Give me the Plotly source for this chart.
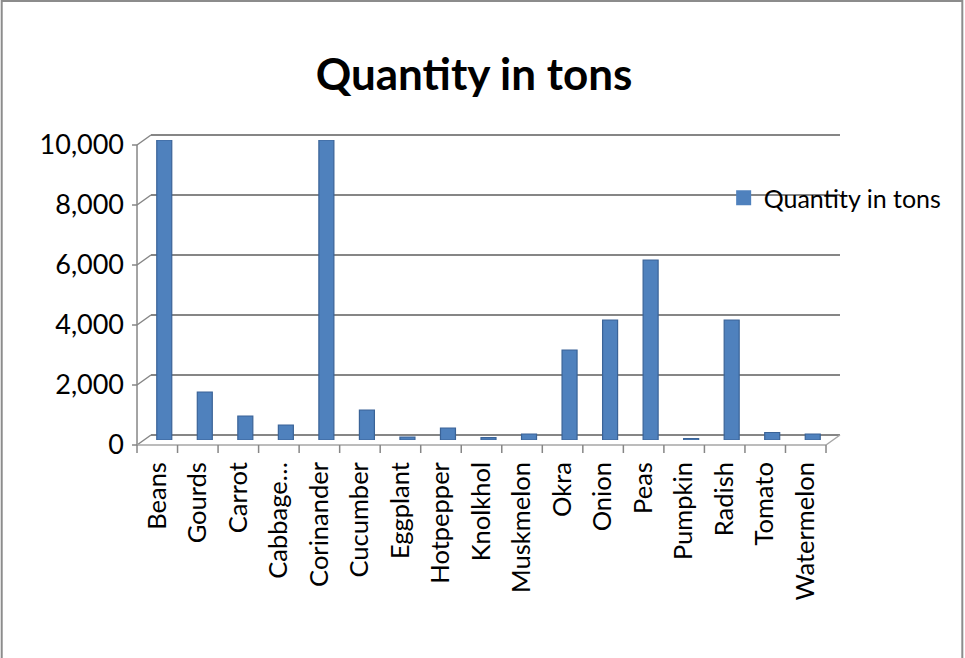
import plotly.graph_objects as go

categories = ["Beans", "Gourds", "Carrot", "Cabbage…", "Corinander", "Cucumber",
              "Eggplant", "Hotpepper", "Knolkhol", "Muskmelon", "Okra", "Onion",
              "Peas", "Pumpkin", "Radish", "Tomato", "Watermelon"]
quantity = [10000, 1600, 800, 500, 10000, 1000, 100, 400, 80, 200,
            3000, 4000, 6000, 50, 4000, 250, 200]
y_ticks = [0, 2000, 4000, 6000, 8000, 10000]
y_max = 10000
series_name = "Quantity in tons"

FONT = "Lato, Carlito, sans-serif"
BAR_COLOR = "#4F81BD"
W, H = 965, 658
L, R, T, B = 143.5, 131.5, 140, 218          # plot margins (px)
PW, PH = W - L - R, H - T - B                 # plot size (px)
DX, DY = 7, 5                                  # half-depth of the pseudo-3D box (px)
GRID = "#868686"
FLOOR = "#A6A6A6"


def px(x_px):
    """pixel column -> paper x"""
    return (x_px - L) / PW


def py(y_px):
    """pixel row -> paper y"""
    return (H - B - y_px) / PH


def val_y(v, depth_px=0):
    """axis value shifted by a vertical depth offset (px, up positive) -> paper y"""
    return v / y_max + depth_px / PH


fig = go.Figure()
fig.add_trace(go.Bar(
    x=categories, y=quantity, name=series_name, showlegend=False,
    marker=dict(color=BAR_COLOR, line=dict(color="#3A6397", width=1.2)),
    width=0.37,
))
# legend key drawn as a solid square
fig.add_trace(go.Scatter(
    x=[None], y=[None], mode="markers", name=series_name,
    marker=dict(symbol="square", size=15, color=BAR_COLOR),
))

shapes = []
x_left, x_right = 0.0, 1.0
# back-wall gridlines and left-wall slants
for v in y_ticks:
    shapes.append(dict(type="line", xref="paper", yref="paper",
                       x0=x_left + DX / PW, x1=x_right + DX / PW,
                       y0=val_y(v, DY), y1=val_y(v, DY),
                       line=dict(color=GRID, width=2), layer="below"))
    shapes.append(dict(type="line", xref="paper", yref="paper",
                       x0=x_left - DX / PW, x1=x_left + DX / PW,
                       y0=val_y(v, -DY), y1=val_y(v, DY),
                       line=dict(color=GRID, width=1.5), layer="below"))
    # small outside tick on the front edge
    shapes.append(dict(type="line", xref="paper", yref="paper",
                       x0=x_left - (DX + 5) / PW, x1=x_left - DX / PW,
                       y0=val_y(v, -DY), y1=val_y(v, -DY),
                       line=dict(color=GRID, width=1.5), layer="below"))
# left front vertical edge
shapes.append(dict(type="line", xref="paper", yref="paper",
                   x0=x_left - DX / PW, x1=x_left - DX / PW,
                   y0=val_y(0, -DY), y1=val_y(y_max, -DY),
                   line=dict(color=GRID, width=1.5), layer="below"))
# floor: front edge and right slant
shapes.append(dict(type="line", xref="paper", yref="paper",
                   x0=x_left - DX / PW, x1=x_right - DX / PW,
                   y0=val_y(0, -DY), y1=val_y(0, -DY),
                   line=dict(color=FLOOR, width=1.5), layer="below"))
shapes.append(dict(type="line", xref="paper", yref="paper",
                   x0=x_right - DX / PW, x1=x_right + DX / PW,
                   y0=val_y(0, -DY), y1=val_y(0, DY),
                   line=dict(color=FLOOR, width=1.5), layer="below"))
# category boundary ticks on the front edge
n = len(categories)
for k in range(n + 1):
    xf = x_left + k / n - DX / PW
    shapes.append(dict(type="line", xref="paper", yref="paper",
                       x0=xf, x1=xf, y0=val_y(0, -DY), y1=val_y(0, -DY - 8),
                       line=dict(color=GRID, width=1.5), layer="below"))
# outer chart frame
shapes.append(dict(type="rect", xref="paper", yref="paper",
                   x0=px(1), x1=px(963), y0=py(H + 20), y1=py(1),
                   line=dict(color="#8C8C8C", width=2),
                   fillcolor="rgba(0,0,0,0)", layer="below"))

fig.update_layout(
    width=W, height=H,
    margin=dict(l=L, r=R, t=T, b=B, pad=0, autoexpand=False),
    paper_bgcolor="white", plot_bgcolor="rgba(0,0,0,0)",
    font=dict(family=FONT, color="black"),
    title=dict(text="<b>Quantity in tons</b>", x=px(474), xanchor="center",
               xref="paper", y=1 - 75 / H, yanchor="middle",
               font=dict(size=44, color="black")),
    showlegend=True,
    legend=dict(x=px(724), xanchor="left", y=py(198), yanchor="middle",
                font=dict(size=25), bgcolor="rgba(0,0,0,0)",
                itemwidth=30, borderwidth=0),
    shapes=shapes,
)
fig.update_xaxes(
    type="category", tickangle=-90, tickfont=dict(size=25.5),
    showline=False, ticks="", showgrid=False, zeroline=False,
    ticklabelshift=-DX, ticklabelstandoff=16,
)
fig.update_yaxes(
    range=[0, y_max], tickvals=y_ticks, tickformat=",d",
    tickfont=dict(size=27),
    showline=False, ticks="", showgrid=False, zeroline=False,
    ticklabelshift=DY, ticklabelstandoff=19,
)

fig.write_html("out.html")
